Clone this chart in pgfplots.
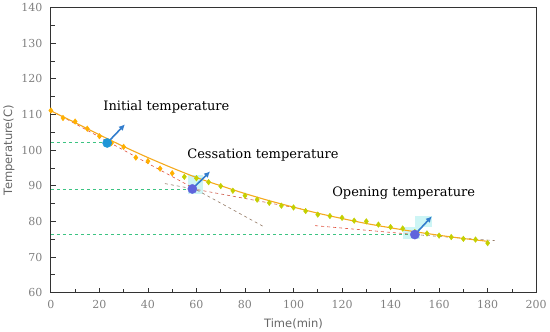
\documentclass[border=0pt]{standalone}
\usepackage{pgfplots}
\pgfplotsset{compat=1.18}
\usepackage{fontspec}
\setmainfont{DejaVu Serif}
\newfontfamily\labfont{DejaVu Sans}
\usetikzlibrary{arrows.meta}

\definecolor{ptorange}{RGB}{255,176,0}
\definecolor{ptgreen}{RGB}{196,208,0}
\definecolor{fitline}{RGB}{245,170,30}
\definecolor{reddash}{RGB}{225,80,60}
\definecolor{greydash}{RGB}{150,125,105}
\definecolor{greendash}{RGB}{60,195,130}
\definecolor{initblue}{RGB}{30,150,215}
\definecolor{purpblue}{RGB}{95,100,220}
\definecolor{arrowblue}{RGB}{50,125,205}
\definecolor{hilite}{RGB}{205,245,245}

\pgfplotstableread{
t T
0 111.1
5 109.0
10 108.0
15 106.0
20 103.9
25 102.0
30 100.9
35 97.9
40 96.9
45 94.8
50 93.5
}\early
\pgfplotstableread{
t T
55 92.5
60 92.1
65 91.0
70 89.9
75 88.6
80 87.2
85 86.1
90 85.2
95 84.4
100 83.9
105 82.9
110 81.9
115 81.5
120 81.0
125 80.2
130 80.0
135 79.1
140 78.4
145 78.0
150 77.0
155 76.6
160 76.0
165 75.6
170 75.1
175 74.9
180 73.9
}\late

\begin{document}
\begin{tikzpicture}
\begin{axis}[
  scale only axis, width=485pt, height=285pt,
  xmin=0, xmax=200, ymin=60, ymax=140,
  xtick distance=20, ytick distance=10,
  minor x tick num=1, minor y tick num=1,
  tick pos=left, tick align=inside,
  major tick length=5pt, minor tick length=4pt,
  axis line style={line width=1.1pt, black!80},
  tick style={black!80, line width=0.8pt},
  tick label style={font=\fontsize{11}{13}\selectfont, text=black!50},
  /pgf/number format/assume math mode=true,
  xticklabel style={yshift=-4pt},
  yticklabel style={xshift=-5pt},
  xlabel={Time(min)}, ylabel={Temperature(C)},
  label style={font=\labfont\fontsize{11.5}{13}\selectfont, text=black!60},
  xlabel style={yshift=-3pt},
  ylabel style={yshift=0pt},
  clip=false,
]
% highlights
\fill[hilite] (axis cs:56.5,87.6) rectangle (axis cs:62.5,93);
\fill[hilite] (axis cs:145,75) rectangle (axis cs:152,78.5);
\fill[hilite] (axis cs:150,78.5) rectangle (axis cs:157,81.5);
% horizontal reference lines
\addplot[greendash, dashed, line width=0.6pt] coordinates {(0,102.2) (23,102.2)};
\addplot[greendash, dashed, line width=0.6pt] coordinates {(0,89.1) (58,89.1)};
\addplot[greendash, dashed, line width=0.6pt] coordinates {(0,76.3) (150,76.3)};
% tangent lines
\addplot[reddash, dashed, line width=0.6pt] coordinates {(0,111.1) (58,89.6)};
\addplot[greydash, dashed, line width=0.6pt] coordinates {(58,89.6) (87.5,78.6)};
\addplot[greydash, dashed, line width=0.6pt] coordinates {(47,90.6) (58,89.2)};
\addplot[reddash!80!gray, dashed, line width=0.6pt] coordinates {(58,89.2) (104,83.4)};
\addplot[reddash, dashed, line width=0.6pt] coordinates {(108.9,78.8) (150,76.3)};
\addplot[greydash, dashed, line width=0.6pt] coordinates {(150,76.3) (183,74.6)};
% data points
\addplot[only marks, mark=diamond*, mark size=2.8pt, color=ptorange] table[x=t,y=T] {\early};
\addplot[only marks, mark=diamond*, mark size=2.8pt, color=ptgreen] table[x=t,y=T] {\late};
% fitted curve
\addplot[fitline, line width=1.1pt, smooth] coordinates {
(0,111) (10,107.7) (20,104.3) (30,101.0) (40,97.9) (50,95.0) (60,92.3)
(70,90.0) (80,87.8) (90,85.8) (100,84.0) (110,82.3) (120,80.8)
(130,79.4) (140,78.2) (150,77.1) (160,76.1) (170,75.2) (180,74.4)};
% key points
\addplot[only marks, mark=*, mark size=4.6pt, color=initblue] coordinates {(23.2,102.0)};
\addplot[only marks, mark=*, mark size=4.6pt, color=purpblue] coordinates {(58.3,89.1) (150,76.3)};
% arrows
\draw[arrowblue, line width=1.6pt, -{Latex[length=6pt,width=6pt]}] (axis cs:23.2,102.0) -- (axis cs:30.5,107.2);
\draw[arrowblue, line width=1.6pt, -{Latex[length=6pt,width=6pt]}] (axis cs:58.3,89.1) -- (axis cs:65.6,94.0);
\draw[arrowblue, line width=1.6pt, -{Latex[length=6pt,width=6pt]}] (axis cs:150,76.3) -- (axis cs:157,81.4);
% labels
\node[font=\fontsize{13}{15}\selectfont] at (axis cs:47.6,112.2) {Initial temperature};
\node[font=\fontsize{13}{15}\selectfont] at (axis cs:87.4,98.7) {Cessation temperature};
\node[font=\fontsize{13}{15}\selectfont] at (axis cs:145.4,87.8) {Opening temperature};
\end{axis}
\end{tikzpicture}
\end{document}
